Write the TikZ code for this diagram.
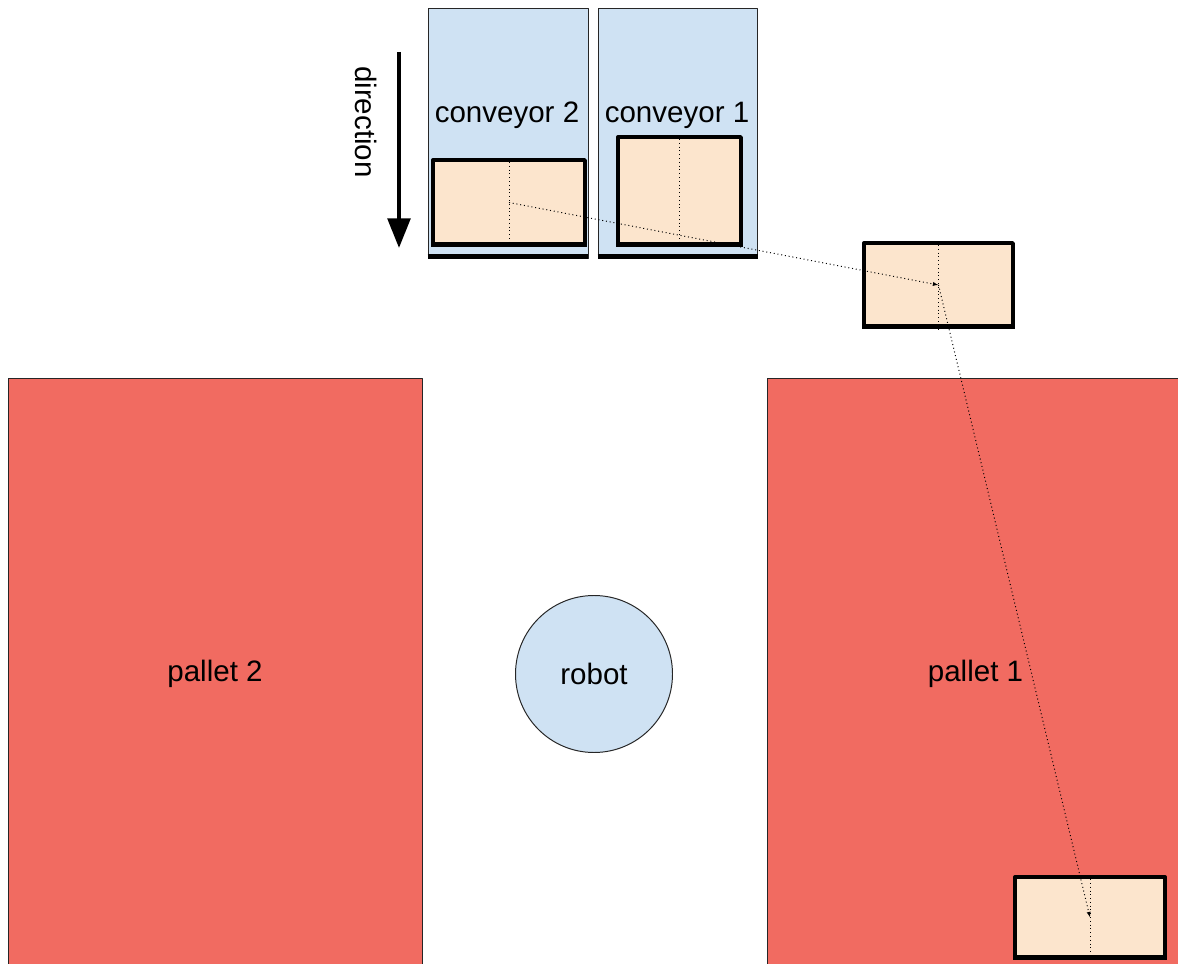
\documentclass[tikz,border=0pt]{standalone}
\usepackage{fontspec}
\setmainfont{Liberation Sans}
\usetikzlibrary{arrows.meta}
\definecolor{convBlue}{RGB}{207,226,243}
\definecolor{palletRed}{RGB}{241,107,97}
\definecolor{boxPeach}{RGB}{252,229,205}
\begin{document}
\begin{tikzpicture}
% cell layout, coordinates in screen pixels
\def\pxsz{0.025cm}
\providecommand{\cellFont}{\fontsize{21}{25}\selectfont}
\providecommand{\cellEdgeWidth}{0.7pt}
\providecommand{\boxEdgeWidth}{2.4pt}
\providecommand{\baseEdgeWidth}{3.4pt}
\begin{scope}[x=\pxsz, y=-\pxsz, line join=round,
  convbox/.style={draw=black!85, fill=convBlue, line width=\cellEdgeWidth, inner sep=0pt},
  palletbox/.style={draw=black!85, fill=palletRed, line width=\cellEdgeWidth, inner sep=0pt, font=\cellFont},
  cartonbox/.style={draw=black, fill=boxPeach, line width=\boxEdgeWidth, inner sep=0pt},
  lbl/.style={font=\cellFont, inner sep=0pt},
  centerline/.style={dotted, line width=0.7pt},
  pathline/.style={dotted, line width=0.7pt, -{Latex[length=4pt,width=3pt]}},
  dirarrow/.style={line width=2.8pt, -{Triangle[length=21pt,width=16pt]}}]
  \useasboundingbox (0,0) rectangle (1178,964);
  % Pallets
  \node[palletbox, minimum width=414*\pxsz, minimum height=592*\pxsz] (pallet2) at (215,674) {pallet 2};
  \node[palletbox, minimum width=417*\pxsz, minimum height=592*\pxsz] (pallet1) at (975.5,674) {pallet 1};
  % Robot
  \node[convbox, circle, minimum size=157*\pxsz, font=\cellFont] (robot) at (594,674) {robot};
  % Conveyors
  \node[convbox, minimum width=160*\pxsz, minimum height=250*\pxsz] (conv2) at (508,133) {};
  \node[convbox, minimum width=159*\pxsz, minimum height=250*\pxsz] (conv1) at (677.5,133) {};
  \draw[line width=\baseEdgeWidth] ([yshift=1.2pt]conv2.south west) -- ([yshift=1.2pt]conv2.south east);
  \draw[line width=\baseEdgeWidth] ([yshift=1.2pt]conv1.south west) -- ([yshift=1.2pt]conv1.south east);
  \node[lbl] (conv2lbl) at (507,115) {conveyor 2};
  \node[lbl] (conv1lbl) at (677,115) {conveyor 1};
  % Direction
  \coordinate (dirtop) at (399,52);
  \coordinate (dirbot) at (399,248);
  \draw[dirarrow] (dirtop) -- (dirbot);
  \node[lbl, rotate=-90] (dirlbl) at (366,122) {direction};
  % Cartons
  \node[cartonbox, minimum width=152*\pxsz, minimum height=85*\pxsz] (c2box) at (509,202.5) {};
  \node[cartonbox, minimum width=123*\pxsz, minimum height=108*\pxsz] (c1box) at (679.5,191) {};
  \node[cartonbox, minimum width=149*\pxsz, minimum height=84*\pxsz] (midbox) at (938.5,285) {};
  \node[cartonbox, minimum width=150*\pxsz, minimum height=81*\pxsz] (palbox) at (1090,917.5) {};
  \foreach \b in {c2box,c1box,midbox,palbox} {
    \draw[line width=\baseEdgeWidth] ([yshift=1.4pt]\b.south west) -- ([yshift=1.4pt]\b.south east);
    \draw[centerline] (\b.north) -- (\b.south);
  }
  % Carton path
  \draw[pathline] (c2box.center) -- (midbox.center);
  \draw[pathline] (midbox.center) -- (palbox.center);
\end{scope}
\end{tikzpicture}
\end{document}
